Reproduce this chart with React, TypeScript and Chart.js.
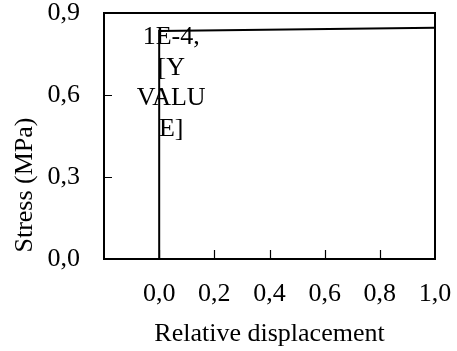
import React, { useEffect, useRef } from "react";
import { Chart, registerables } from "chart.js";

Chart.register(...registerables);

const xValues = [0, 0.0001, 1.0];
const yValues = [0, 0.834, 0.846];
const xTickRange = [-0.2, 1.0];
const yTickRange = [0, 0.9];
const xStep = 0.2;
const yStep = 0.3;
const labelLines = ["1E-4,", "[Y", "VALU", "E]"];
const xTitle = "Relative displacement";
const yTitle = "Stress (MPa)";

const FONT = '"Liberation Serif", "Times New Roman", serif';
const FS = 26;

const fmt = (v: number) => {
  const n = Math.abs(v) < 1e-9 ? 0 : v;
  return n.toFixed(1).replace(".", ",");
};

const clearPad = (s: any) => {
  s.paddingTop = 0;
  s.paddingBottom = 0;
  s.paddingLeft = 0;
  s.paddingRight = 0;
};

const framePlugin = {
  id: "frame",
  afterDraw(chart: any) {
    const { ctx, chartArea, scales } = chart;
    const { left, right, top, bottom } = chartArea;
    ctx.save();
    ctx.strokeStyle = "#000";
    ctx.lineWidth = 2;
    ctx.strokeRect(left, top, right - left, bottom - top);
    ctx.lineWidth = 1.2;
    ctx.beginPath();
    scales.x.ticks.forEach((t: any) => {
      if (t.value > scales.x.min + 1e-6 && t.value < scales.x.max - 1e-6) {
        const px = Math.round(scales.x.getPixelForValue(t.value)) + 0.5;
        ctx.moveTo(px, bottom);
        ctx.lineTo(px, bottom - 9);
      }
    });
    scales.y.ticks.forEach((t: any) => {
      if (t.value > scales.y.min + 1e-6 && t.value < scales.y.max - 1e-6) {
        const py = Math.round(scales.y.getPixelForValue(t.value)) + 0.5;
        ctx.moveTo(left, py);
        ctx.lineTo(left + 8, py);
      }
    });
    ctx.stroke();

    ctx.fillStyle = "#000";
    ctx.font = `${FS}px ${FONT}`;

    // y axis title
    ctx.save();
    ctx.translate(25, bottom - 74);
    ctx.rotate(-Math.PI / 2);
    ctx.textAlign = "center";
    ctx.textBaseline = "middle";
    ctx.fillText(yTitle, 0, 0);
    ctx.restore();

    // data label at the second point
    const meta = chart.getDatasetMeta(0);
    const pt = meta.data[1];
    if (pt) {
      ctx.textAlign = "center";
      ctx.textBaseline = "alphabetic";
      labelLines.forEach((line, i) => {
        ctx.fillText(line, pt.x + 12, pt.y + 13 + i * 30.5);
      });
    }
    ctx.restore();
  },
};

export default function App() {
  const ref = useRef<HTMLCanvasElement>(null);
  useEffect(() => {
    if (!ref.current) return;
    const chart = new Chart(ref.current, {
      type: "scatter",
      data: {
        datasets: [
          {
            data: xValues.map((x, i) => ({ x, y: yValues[i] })),
            showLine: true,
            borderColor: "#000",
            borderWidth: 2,
            pointRadius: 0,
            fill: false,
          },
        ],
      },
      plugins: [framePlugin],
      options: {
        responsive: false,
        animation: false,
        layout: { padding: { top: 13, right: 22, left: 0, bottom: 0 } },
        plugins: { legend: { display: false }, tooltip: { enabled: false } },
        scales: {
          x: {
            type: "linear",
            min: xTickRange[0],
            max: xTickRange[1],
            afterFit: (s: any) => {
              s.height = 92;
              clearPad(s);
            },
            grid: { display: false, drawTicks: false },
            border: { display: false },
            ticks: {
              stepSize: xStep,
              padding: 20,
              color: "#000",
              font: { family: FONT, size: FS },
              maxRotation: 0,
              autoSkip: false,
              callback: (v: any) => (v < -1e-6 ? "" : fmt(Number(v))),
            },
            title: {
              display: true,
              text: xTitle,
              color: "#000",
              font: { family: FONT, size: FS },
              padding: { top: 0, bottom: 1 },
            },
          },
          y: {
            type: "linear",
            min: yTickRange[0],
            max: yTickRange[1],
            afterFit: (s: any) => {
              s.width = 104;
              clearPad(s);
            },
            grid: { display: false, drawTicks: false },
            border: { display: false },
            ticks: {
              stepSize: yStep,
              padding: 24,
              color: "#000",
              font: { family: FONT, size: FS },
              callback: (v: any) => fmt(Number(v)),
            },
            title: { display: false, text: yTitle },
          },
        },
      },
    });
    return () => chart.destroy();
  }, []);
  return (
    <div style={{ position: "fixed", left: 0, top: 0, width: 457, height: 351, background: "#fff" }}>
      <canvas ref={ref} width={457} height={351} style={{ width: 457, height: 351 }} />
    </div>
  );
}
